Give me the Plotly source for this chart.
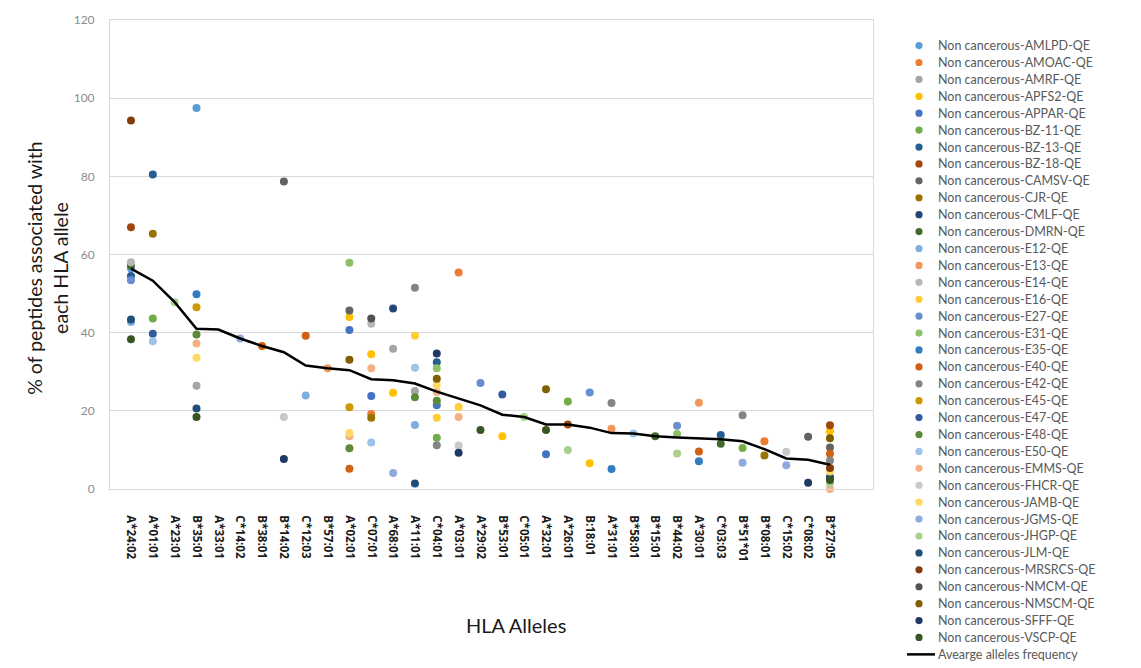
import plotly.graph_objects as go

alleles = ["A*24:02", "A*01:01", "A*23:01", "B*35:01", "A*33:01", "C*14:02", "B*38:01",
           "B*14:02", "C*12:03", "B*57:01", "A*02:01", "C*07:01", "A*68:01", "A*11:01",
           "C*04:01", "A*03:01", "A*29:02", "B*53:01", "C*05:01", "A*32:01", "A*26:01",
           "B:18:01", "A*31:01", "B*58:01", "B*15:01", "B*44:02", "A*30:01", "C*03:03",
           "B*51*01", "B*08:01", "C*15:02", "C*08:02", "B*27:05"]

average = [56.4, 53.3, 47.8, 41.0, 40.8, 38.5, 36.6, 35.0, 31.6, 30.9, 30.4, 28.1, 27.8,
           27.0, 24.9, 23.2, 21.4, 19.0, 18.4, 16.5, 16.5, 15.7, 14.3, 14.2, 13.5, 13.2,
           12.9, 12.7, 12.2, 10.2, 7.8, 7.5, 6.2]

series_names = ["AMLPD", "AMOAC", "AMRF", "APFS2", "APPAR", "BZ-11", "BZ-13", "BZ-18",
                "CAMSV", "CJR", "CMLF", "DMRN", "E12", "E13", "E14", "E16", "E27", "E31",
                "E35", "E40", "E42", "E45", "E47", "E48", "E50", "EMMS", "FHCR", "JAMB",
                "JGMS", "JHGP", "JLM", "MRSRCS", "NMCM", "NMSCM", "SFFF", "VSCP"]

series_colors = ["#5B9BD5", "#ED7D31", "#A5A5A5", "#FFC000", "#4472C4", "#70AD47",
                 "#255E91", "#9E480E", "#636363", "#997300", "#264478", "#43682B",
                 "#7CAFDD", "#F1975A", "#B7B7B7", "#FFCD33", "#698ED0", "#8CC168",
                 "#327DC2", "#D26012", "#848484", "#CC9A00", "#335AA1", "#5A8A39",
                 "#9DC3E6", "#F4B183", "#C9C9C9", "#FFD966", "#8FAADC", "#A9D18E",
                 "#1F4E79", "#843C0C", "#525252", "#7F6000", "#203864", "#375623"]

# (allele, value) pairs per individual
series_points = {
    "AMLPD": [("A*24:02", 56.4), ("B*35:01", 97.5)],
    "AMOAC": [("A*03:01", 55.4), ("C*07:01", 19.2), ("B*08:01", 12.2)],
    "AMRF": [("B*35:01", 26.4), ("A*68:01", 35.9), ("A*11:01", 25.1)],
    "APFS2": [("A*02:01", 44.0), ("C*07:01", 34.5), ("A*68:01", 24.6), ("B*53:01", 13.5),
              ("B:18:01", 6.6), ("B*27:05", 14.8)],
    "APPAR": [("A*02:01", 40.7), ("C*07:01", 23.8), ("C*04:01", 21.4), ("A*32:01", 8.9)],
    "BZ-11": [("A*01:01", 43.6), ("C*04:01", 13.1), ("A*26:01", 22.4), ("B*51*01", 10.5)],
    "BZ-13": [("A*01:01", 80.5), ("A*24:02", 54.5), ("C*04:01", 32.4), ("C*03:03", 13.8)],
    "BZ-18": [("A*24:02", 67.0), ("A*26:01", 16.5), ("B*27:05", 16.3)],
    "CAMSV": [("B*14:02", 78.7), ("A*02:01", 45.7), ("C*08:02", 13.4), ("B*27:05", 10.6)],
    "CJR": [("A*01:01", 65.3), ("C*07:01", 18.2), ("B*08:01", 8.6)],
    "CMLF": [("A*68:01", 46.2), ("B*27:05", 3.1)],
    "DMRN": [("A*24:02", 57.2), ("C*03:03", 11.6), ("B*15:01", 13.5)],
    "E12": [("C*12:03", 23.9), ("A*11:01", 16.4), ("A*24:02", 42.7)],
    "E13": [("B*57:01", 30.9), ("A*31:01", 15.4), ("A*30:01", 22.1)],
    "E14": [("C*07:01", 42.3), ("A*24:02", 58.0)],
    "E16": [("A*11:01", 39.2), ("A*03:01", 21.0), ("C*04:01", 18.2)],
    "E27": [("A*24:02", 53.4), ("A*29:02", 27.1), ("B:18:01", 24.7), ("B*44:02", 16.2)],
    "E31": [("A*02:01", 57.9), ("C*04:01", 30.9), ("B*44:02", 14.1)],
    "E35": [("B*35:01", 49.8), ("A*31:01", 5.1), ("A*30:01", 7.1)],
    "E40": [("B*38:01", 36.6), ("C*12:03", 39.2), ("A*02:01", 5.2), ("A*30:01", 9.6),
            ("B*27:05", 9.0)],
    "E42": [("A*11:01", 51.5), ("C*04:01", 11.2), ("A*31:01", 22.0), ("B*51*01", 18.9),
            ("B*27:05", 7.3)],
    "E45": [("B*35:01", 46.5), ("A*02:01", 20.9)],
    "E47": [("A*01:01", 39.7), ("B*53:01", 24.2)],
    "E48": [("B*35:01", 39.5), ("A*02:01", 10.4), ("A*11:01", 23.5), ("C*04:01", 22.6)],
    "E50": [("A*01:01", 37.8), ("C*07:01", 11.9), ("A*11:01", 31.0), ("B*58:01", 14.2)],
    "EMMS": [("B*35:01", 37.2), ("A*02:01", 13.5), ("C*07:01", 30.9), ("C*04:01", 24.8),
             ("A*03:01", 18.4), ("B*27:05", 0.0)],
    "FHCR": [("B*14:02", 18.4), ("A*03:01", 11.1), ("C*15:02", 9.5)],
    "JAMB": [("B*35:01", 33.6), ("A*02:01", 14.3), ("C*04:01", 26.7), ("B*27:05", 4.5)],
    "JGMS": [("C*14:02", 38.5), ("A*68:01", 4.1), ("B*51*01", 6.7), ("C*15:02", 6.1)],
    "JHGP": [("A*23:01", 47.8), ("C*05:01", 18.4), ("A*26:01", 10.0), ("B*44:02", 9.1),
             ("B*27:05", 1.4)],
    "JLM": [("A*24:02", 43.4), ("B*35:01", 20.6), ("A*11:01", 1.4)],
    "MRSRCS": [("A*24:02", 94.3), ("B*27:05", 5.4)],
    "NMCM": [("C*07:01", 43.6)],
    "NMSCM": [("A*02:01", 33.1), ("C*04:01", 28.2), ("A*32:01", 25.5), ("B*27:05", 13.0)],
    "SFFF": [("B*14:02", 7.7), ("C*04:01", 34.7), ("A*03:01", 9.3), ("C*08:02", 1.6)],
    "VSCP": [("A*24:02", 38.3), ("B*35:01", 18.4), ("A*29:02", 15.1), ("A*32:01", 15.1),
             ("B*27:05", 2.3)],
}

y_ticks = [0, 20, 40, 60, 80, 100, 120]
average_label = "Avearge alleles frequency"

FONT = "Lato, 'Open Sans', sans-serif"
W, H = 1141, 668
ML, MR, MT, MB = 110, 268, 12, 179
PW, PH = W - ML - MR, H - MT - MB


def px_x(px):
    return (px - ML) / PW


def px_y(py):
    return (H - MB - py) / PH


idx = {a: i for i, a in enumerate(alleles)}

fig = go.Figure()
for name, color in zip(series_names, series_colors):
    pts = series_points[name]
    fig.add_trace(go.Scatter(
        x=[idx[a] for a, _ in pts], y=[v for _, v in pts],
        mode="markers", name=f"Non cancerous-{name}-QE", showlegend=False,
        marker=dict(color=color, size=8, line=dict(width=0)),
        cliponaxis=False))

fig.add_trace(go.Scatter(
    x=list(range(len(alleles))), y=average, mode="lines", showlegend=False,
    name=average_label, line=dict(color="black", width=2.5)))

# Manual legend (compact spacing like the original)
shapes = []
annotations = []
LEG_TOP, LEG_STEP = 38, 17.2
MARK_X, TEXT_X = 919, 936
for i, (name, color) in enumerate(zip(series_names, series_colors)):
    py = LEG_TOP + i * LEG_STEP
    shapes.append(dict(type="circle", xref="paper", yref="paper",
                       xsizemode="pixel", ysizemode="pixel",
                       xanchor=px_x(MARK_X), yanchor=px_y(py),
                       x0=-3.6, x1=3.6, y0=-3.6, y1=3.6,
                       fillcolor=color, line=dict(width=0)))
    annotations.append(dict(text=f"Non cancerous-{name}-QE", x=px_x(TEXT_X), y=px_y(py),
                            xref="paper", yref="paper", xanchor="left", yanchor="middle",
                            showarrow=False,
                            font=dict(size=12.5, color="#595959", family=FONT)))
py = LEG_TOP + len(series_names) * LEG_STEP
shapes.append(dict(type="line", xref="paper", yref="paper",
                   x0=px_x(907), x1=px_x(935), y0=px_y(py), y1=px_y(py),
                   line=dict(color="black", width=2.5)))
annotations.append(dict(text=average_label, x=px_x(TEXT_X), y=px_y(py),
                        xref="paper", yref="paper", xanchor="left", yanchor="middle",
                        showarrow=False, font=dict(size=12.5, color="#595959", family=FONT)))

annotations += [
    dict(text="HLA Alleles", x=px_x(516), y=px_y(627), xref="paper", yref="paper",
         xanchor="center", yanchor="middle",
         showarrow=False, font=dict(size=20, color="#1a1a1a", family=FONT)),
    dict(text="% of peptides associated with<br>each HLA allele", x=px_x(47), y=px_y(265),
         xref="paper", yref="paper", xanchor="center", yanchor="middle",
         textangle=-90, showarrow=False,
         font=dict(size=19.5, color="#1a1a1a", family=FONT)),
]

fig.update_layout(
    width=W, height=H,
    margin=dict(l=ML, r=MR, t=MT, b=MB),
    paper_bgcolor="white", plot_bgcolor="white",
    font=dict(family=FONT, color="#595959"),
    showlegend=False,
    shapes=shapes,
    annotations=annotations,
    xaxis=dict(range=[-0.96, 33.97], tickmode="array",
               tickvals=list(range(len(alleles))), ticktext=alleles,
               tickangle=90, ticklabelstandoff=23,
               tickfont=dict(size=11.5, color="#1a1a1a", family="'Open Sans', sans-serif",
                             weight="bold"),
               showgrid=False, showline=True, linecolor="#D9D9D9", linewidth=1, mirror=True,
               zeroline=False, ticks=""),
    yaxis=dict(range=[0, 120], tickmode="array", tickvals=y_ticks,
               tickfont=dict(size=12, color="#8c8c8c"),
               showgrid=True, gridcolor="#D9D9D9", gridwidth=1,
               showline=True, linecolor="#D9D9D9", linewidth=1, mirror=True,
               zeroline=False, ticks="", ticklabelstandoff=12),
)

fig.write_html("out.html")
